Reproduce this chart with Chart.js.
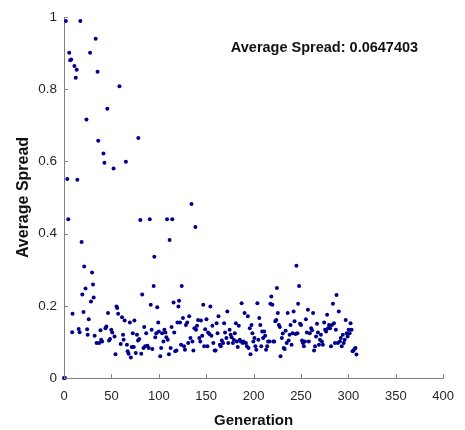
<!DOCTYPE html>
<html>
<head>
<meta charset="utf-8">
<script src="https://cdn.jsdelivr.net/npm/chart.js@4.4.1/dist/chart.umd.min.js"></script>
<style>
  html, body { margin: 0; padding: 0; background: #fff; }
  #wrap { width: 465px; height: 430px; }
</style>
</head>
<body>
<div id="wrap"><canvas id="chart"></canvas></div>
<script>
// Generation number of every point
const generation = [
  0, 1, 2, 3.4, 4.5, 5.5, 6.5, 7.6, 8.6, 9, 11, 12.4, 13.4, 14.1, 15.5, 16.5, 17.2, 18.6, 19.3, 20.6,
  21.3, 22.7, 23.7, 24.4, 25, 26.1, 27.5, 28.5, 29.6, 30.6, 31.3, 32.3, 33.4, 34.4, 35.4, 36.1, 37.1, 38.5, 39.2, 40.2,
  41.6, 42.6, 43.7, 44.7, 45.7, 46.4, 47.5, 48.5, 49.9, 50.9, 52.3, 53.3, 54.3, 55.4, 56.1, 57.1, 58.5, 59.8, 61.2, 62.3,
  62.9, 64, 65.3, 66.4, 67.1, 68.1, 69.5, 70.5, 71.5, 72.6, 73.6, 74.3, 75.7, 77, 78.1, 78.4, 79.4, 80.5, 81.5, 82.5,
  83.9, 84.6, 85.6, 86.7, 88, 89.4, 90.5, 91.5, 92.5, 93.2, 94.6, 95.3, 96.3, 97.3, 98.4, 99.4, 100.1, 101.5, 102.5, 103.5,
  104.9, 105.9, 107, 108, 108.7, 109.4, 110.7, 111.4, 112.5, 113.5, 114.2, 115.6, 116.3, 117.3, 118.7, 119.7, 120.7, 121.4, 122.4, 123.5,
  124.2, 125.5, 126.6, 127.6, 128.6, 130, 131, 132.1, 133.4, 134.5, 135.5, 136.5, 137.6, 138.6, 139.3, 140.3, 141.4, 142.7, 143.8, 144.5,
  145.8, 146.9, 147.9, 148.9, 150.3, 151.3, 152, 153.4, 154.4, 155.5, 156.5, 157.5, 158.9, 159.9, 161, 162, 163, 164.4, 165.4, 166.5,
  167.8, 168.9, 169.9, 171.3, 172.3, 173.3, 174.7, 175.8, 176.8, 178.2, 179.2, 180.2, 181.3, 182.3, 183.3, 184.4, 185.4, 186.4, 187.4, 188.5,
  189.5, 190.5, 191.9, 193, 194, 194.7, 196, 196.7, 197.8, 198.8, 199.8, 200.9, 201.9, 202.9, 204, 205, 206, 207.1, 208.1, 209.1,
  210.1, 211.2, 212.2, 213.2, 214.3, 215.3, 216.7, 217.7, 218.7, 219.8, 220.8, 221.8, 222.9, 223.9, 224.6, 225.6, 226.7, 227.7, 228.4, 229.8,
  230.8, 231.8, 232.8, 233.9, 234.9, 236, 237, 238, 239, 240.1, 241.1, 242.2, 243.2, 244.2, 245.2, 246.3, 247, 248, 249, 250,
  251.1, 252.1, 253.1, 254.2, 255.2, 256.2, 257.3, 258.3, 259.3, 260.7, 261.7, 262.8, 263.8, 264.8, 265.9, 266.9, 267.9, 269, 270, 271,
  272.1, 273.1, 274.5, 275.5, 276.5, 277.6, 278.6, 279.6, 280.7, 281.7, 282.7, 283.7, 284.8, 285.8, 286.8, 287.5, 288.9, 289.9, 291, 292,
  293, 294.1, 295.1, 296.1, 297.2, 298.2, 299.2, 300.3, 301.3, 302.3, 303.4, 304.4, 305.4, 306.5, 307.5, 308.5
];

// Average spread of every point, same order
const avgSpread = [
  0, 0, 0.989, 0.551, 0.44, 0.901, 0.880, 0.882, 0.127, 0.178, 0.864, 0.832, 0.854, 0.549, 0.136, 0.127, 0.989, 0.377, 0.231, 0.183,
  0.309, 0.248, 0.716, 0.135, 0.12, 0.163, 0.901, 0.212, 0.292, 0.259, 0.223, 0.117, 0.940, 0.097, 0.848, 0.657, 0.097, 0.132, 0.106, 0.101,
  0.622, 0.596, 0.138, 0.143, 0.746, 0.180, 0.104, 0.108, 0.134, 0.126, 0.580, 0.115, 0.066, 0.198, 0.194, 0.178, 0.808, 0.094, 0.168, 0.120,
  0.106, 0.159, 0.599, 0.092, 0.074, 0.067, 0.154, 0.057, 0.086, 0.124, 0.086, 0.159, 0.069, 0.120, 0.104, 0.665, 0.108, 0.438, 0.067, 0.231,
  0.083, 0.141, 0.088, 0.124, 0.089, 0.083, 0.44, 0.203, 0.134, 0.080, 0.255, 0.336, 0.113, 0.124, 0.196, 0.154, 0.129, 0.060, 0.083, 0.124,
  0.101, 0.134, 0.126, 0.113, 0.44, 0.106, 0.066, 0.382, 0.083, 0.141, 0.44, 0.209, 0.126, 0.074, 0.076, 0.154, 0.198, 0.214, 0.154, 0.092,
  0.255, 0.166, 0.088, 0.078, 0.147, 0.154, 0.097, 0.171, 0.111, 0.482, 0.101, 0.076, 0.138, 0.418, 0.134, 0.145, 0.161, 0.111, 0.101, 0.159,
  0.117, 0.203, 0.088, 0.135, 0.163, 0.088, 0.126, 0.122, 0.198, 0.117, 0.145, 0.097, 0.076, 0.076, 0.152, 0.124, 0.171, 0.092, 0.088, 0.104,
  0.097, 0.152, 0.126, 0.111, 0.184, 0.097, 0.134, 0.120, 0.113, 0.097, 0.106, 0.124, 0.152, 0.101, 0.086, 0.145, 0.106, 0.101, 0.207, 0.097,
  0.101, 0.180, 0.097, 0.088, 0.171, 0.083, 0.138, 0.066, 0.147, 0.124, 0.101, 0.111, 0.088, 0.078, 0.207, 0.106, 0.166, 0.147, 0.088, 0.129,
  0.111, 0.129, 0.117, 0.078, 0.088, 0.101, 0.101, 0.206, 0.226, 0.203, 0.101, 0.101, 0.157, 0.161, 0.249, 0.180, 0.147, 0.141, 0.060, 0.111,
  0.123, 0.083, 0.080, 0.131, 0.097, 0.180, 0.104, 0.120, 0.147, 0.092, 0.124, 0.184, 0.157, 0.122, 0.311, 0.124, 0.206, 0.255, 0.150, 0.147,
  0.104, 0.097, 0.088, 0.101, 0.163, 0.126, 0.189, 0.101, 0.124, 0.138, 0.132, 0.180, 0.076, 0.088, 0.115, 0.150, 0.126, 0.092, 0.106, 0.120,
  0.101, 0.092, 0.154, 0.134, 0.129, 0.175, 0.138, 0.147, 0.138, 0.088, 0.147, 0.206, 0.152, 0.097, 0.134, 0.230, 0.097, 0.184, 0.101, 0.111,
  0.088, 0.120, 0.097, 0.106, 0.161, 0.124, 0.115, 0.134, 0.124, 0.152, 0.134, 0.074, 0.076, 0.080, 0.083, 0.065
];

const xRange = [0, 400];
const yRange = [0, 1];
const noteText = 'Average Spread: 0.0647403';
const notePos = { x: 176, y: 0.913 };

const FONT = '"Liberation Sans", Arial, Helvetica, sans-serif';
const AXIS_COLOR = '#808080';
const TEXT_COLOR = '#262626';
const DOT_COLOR = '#00008a';

// MATLAB-style tick marks pointing into the plot, plus the text note
const innerTicks = {
  id: 'innerTicks',
  afterDraw(chart) {
    const { ctx, chartArea, scales: { x, y } } = chart;
    ctx.save();
    ctx.strokeStyle = AXIS_COLOR;
    ctx.lineWidth = 1;
    ctx.beginPath();
    x.ticks.forEach(t => {
      const px = Math.round(x.getPixelForValue(t.value)) + 0.5;
      ctx.moveTo(px, chartArea.bottom);
      ctx.lineTo(px, chartArea.bottom - 4);
    });
    y.ticks.forEach(t => {
      const py = Math.round(y.getPixelForValue(t.value)) + 0.5;
      ctx.moveTo(chartArea.left, py);
      ctx.lineTo(chartArea.left + 4, py);
    });
    ctx.stroke();

    ctx.font = 'bold 14.5px ' + FONT;
    ctx.fillStyle = '#111';
    ctx.textAlign = 'left';
    ctx.textBaseline = 'middle';
    ctx.fillText(noteText, x.getPixelForValue(notePos.x), y.getPixelForValue(notePos.y));
    ctx.restore();
  }
};

const canvas = document.getElementById('chart');
new Chart(canvas, {
  type: 'scatter',
  data: {
    datasets: [{
      data: generation.map((g, i) => ({ x: g, y: avgSpread[i] })),
      backgroundColor: DOT_COLOR,
      borderColor: DOT_COLOR,
      borderWidth: 0,
      pointRadius: 2,
      clip: false
    }]
  },
  options: {
    responsive: true,
    maintainAspectRatio: false,
    animation: false,
    layout: { padding: { top: 17, right: 13, left: 0, bottom: 0 } },
    plugins: {
      legend: { display: false },
      tooltip: { enabled: false }
    },
    scales: {
      x: {
        type: 'linear',
        min: xRange[0],
        max: xRange[1],
        grid: { display: false, drawTicks: false },
        border: { display: true, color: AXIS_COLOR, width: 1 },
        ticks: { stepSize: 50, padding: 11, color: TEXT_COLOR, font: { family: FONT, size: 13 } },
        title: { display: true, text: 'Generation', color: '#111', font: { family: FONT, size: 15, weight: 'bold' }, padding: 0 },
        afterFit: s => { s.height = 52; }
      },
      y: {
        type: 'linear',
        min: yRange[0],
        max: yRange[1],
        grid: { display: false, drawTicks: false },
        border: { display: true, color: AXIS_COLOR, width: 1 },
        ticks: {
          stepSize: 0.2,
          padding: 7,
          color: TEXT_COLOR,
          font: { family: FONT, size: 13.5 },
          callback: v => String(Math.round(v * 10) / 10)
        },
        title: { display: true, text: 'Average Spread', color: '#111', font: { family: FONT, size: 16, weight: 'bold' }, padding: { top: 14 } },
        afterFit: s => { s.width = 64; }
      }
    }
  },
  plugins: [innerTicks]
});
</script>
</body>
</html>
